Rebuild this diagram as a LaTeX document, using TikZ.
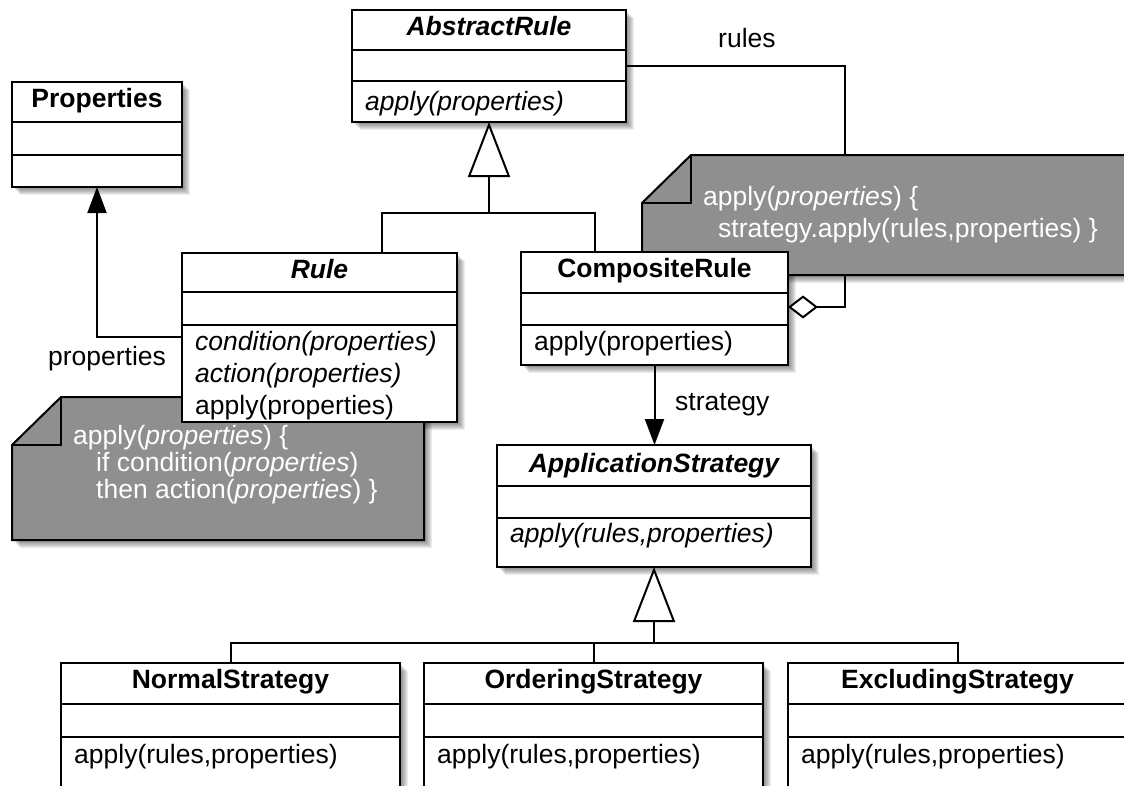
\documentclass[tikz,border=0pt]{standalone}
\usepackage{fontspec}
\setmainfont{Liberation Sans}
\usetikzlibrary{arrows.meta,calc}
\definecolor{notegray}{RGB}{143,143,143}

\pgfdeclarelayer{shadowlayer}
\pgfsetlayers{shadowlayer,main}

\tikzset{
  classbox/.style={draw=black,line width=2pt,fill=white,inner sep=0pt,outer sep=0pt,anchor=north west},
  divider/.style={line width=2pt},
  classname/.style={font=\bfseries,anchor=base,inner sep=0pt},
  abstractname/.style={font=\bfseries\itshape,anchor=base,inner sep=0pt},
  op/.style={anchor=base west,inner sep=0pt},
  role/.style={anchor=base west,inner sep=0pt},
  link/.style={line width=2pt},
  generalization/.style={link,-{Triangle[length=55pt,width=42pt,fill=white]}},
  navigable/.style={link,-{Triangle[length=26pt,width=19pt]}},
  aggregation/.style={link,{Diamond[length=30pt,width=23pt,fill=white]}-},
  notebody/.style={draw=black,line width=2pt,fill=notegray},
  notefold/.style={draw=black,line width=2pt},
  notetext/.style={text=white,anchor=base west,inner sep=0pt},
  shadowstep/.style={draw=none,fill=black,fill opacity=.07}
}

% soft shadow under a class box: stacked translucent copies, offset down-right
\newcommand\boxshadow[1]{%
  \begin{pgfonlayer}{shadowlayer}
  \foreach \k in {1,...,8}{
    \fill[shadowstep] ([xshift=\k pt,yshift=-\k pt]#1.north west) rectangle ([xshift=\k pt,yshift=-\k pt]#1.south east);
  }
  \end{pgfonlayer}}

% soft shadow under an arbitrary path given in picture coordinates
\newcommand\pathshadow[1]{%
  \begin{pgfonlayer}{shadowlayer}
  \foreach \k in {1,...,8}{
    \fill[shadowstep,shift={(\k,\k)}] #1;
  }
  \end{pgfonlayer}}

\begin{document}
\fontsize{26.5pt}{27pt}\selectfont
\begin{tikzpicture}[x=1pt,y=-1pt]
\useasboundingbox (0,0) rectangle (1124,785);
\clip (0,0) rectangle (1124,785);

\path (352,10) coordinate (abs-pos) (12,82) coordinate (props-pos)
      (182,253) coordinate (rule-pos) (521,252) coordinate (comp-pos)
      (497,445) coordinate (app-pos);

% rules association: AbstractRule <>--- CompositeRule (runs behind the note)
\coordinate (rules-corner) at (845,66);
\coordinate (agg-end) at (788,307);
\draw[aggregation] (agg-end) -- (agg-end -| rules-corner) -- (rules-corner) -- (626,66);
\node[role] (rules-label) at (718,47) {rules};

% ---------- notes ----------
\pathshadow{(642,203) -- (691,155) -- (1160,155) -- (1160,275) -- (642,275) -- cycle}
\path[notebody] (642,203) -- (691,155) -- (1160,155) -- (1160,275) -- (642,275) -- cycle;
\draw[notefold] (691,155) -- (691,203) -- (642,203);
\node[notetext] (cnote1) at (703,205) {apply(\textit{properties}) \{};
\node[notetext] (cnote2) at (718,237) {strategy.apply(rules,properties) \}};

\pathshadow{(12,445) -- (61,397) -- (424,397) -- (424,540) -- (12,540) -- cycle}
\path[notebody] (12,445) -- (61,397) -- (424,397) -- (424,540) -- (12,540) -- cycle;
\draw[notefold] (61,397) -- (61,445) -- (12,445);
\node[notetext] (rnote1) at (73,444) {apply(\textit{properties}) \{};
\node[notetext] (rnote2) at (96,471) {if condition(\textit{properties})};
\node[notetext] (rnote3) at (96,498) {then action(\textit{properties}) \}};

% ---------- AbstractRule ----------
\node[classbox,minimum width=274pt,minimum height=112pt] (abs) at (abs-pos) {};
\boxshadow{abs}
\draw[divider] ([yshift=-40pt]abs.north west) -- ([yshift=-40pt]abs.north east);
\draw[divider] ([yshift=-71pt]abs.north west) -- ([yshift=-71pt]abs.north east);
\node[abstractname] (abs-name) at ([yshift=-25pt]abs.north) {AbstractRule};
\node[op,font=\itshape] (abs-op) at ([xshift=13pt,yshift=-100pt]abs.north west) {apply(properties)};

% ---------- Properties ----------
\node[classbox,minimum width=170pt,minimum height=105pt] (props) at (props-pos) {};
\boxshadow{props}
\draw[divider] ([yshift=-40pt]props.north west) -- ([yshift=-40pt]props.north east);
\draw[divider] ([yshift=-73pt]props.north west) -- ([yshift=-73pt]props.north east);
\node[classname] (props-name) at ([yshift=-25pt]props.north) {Properties};

% ---------- Rule ----------
\node[classbox,minimum width=275pt,minimum height=169pt] (rule) at (rule-pos) {};
\boxshadow{rule}
\draw[divider] ([yshift=-39pt]rule.north west) -- ([yshift=-39pt]rule.north east);
\draw[divider] ([yshift=-72pt]rule.north west) -- ([yshift=-72pt]rule.north east);
\node[abstractname] (rule-name) at ([yshift=-25pt]rule.north) {Rule};
\node[op,font=\itshape] (rule-op1) at ([xshift=13pt,yshift=-97pt]rule.north west) {condition(properties)};
\node[op,font=\itshape] (rule-op2) at ([xshift=13pt,yshift=-129pt]rule.north west) {action(properties)};
\node[op] (rule-op3) at ([xshift=13pt,yshift=-161pt]rule.north west) {apply(properties)};

% ---------- CompositeRule ----------
\node[classbox,minimum width=267pt,minimum height=113pt] (comp) at (comp-pos) {};
\boxshadow{comp}
\draw[divider] ([yshift=-41pt]comp.north west) -- ([yshift=-41pt]comp.north east);
\draw[divider] ([yshift=-73pt]comp.north west) -- ([yshift=-73pt]comp.north east);
\node[classname] (comp-name) at ([yshift=-25pt]comp.north) {CompositeRule};
\node[op] (comp-op) at ([xshift=13pt,yshift=-98pt]comp.north west) {apply(properties)};

% ---------- ApplicationStrategy ----------
\node[classbox,minimum width=314pt,minimum height=122pt] (app) at (app-pos) {};
\boxshadow{app}
\draw[divider] ([yshift=-41pt]app.north west) -- ([yshift=-41pt]app.north east);
\draw[divider] ([yshift=-73pt]app.north west) -- ([yshift=-73pt]app.north east);
\node[abstractname] (app-name) at ([yshift=-27pt]app.north) {ApplicationStrategy};
\node[op,font=\itshape] (app-op) at ([xshift=13pt,yshift=-97pt]app.north west) {apply(rules,properties)};

% ---------- concrete strategies ----------
\foreach \key/\xpos/\title in {normal/61/NormalStrategy,ordering/424/OrderingStrategy,excluding/788/ExcludingStrategy}{
  \node[classbox,minimum width=339pt,minimum height=150pt] (\key) at (\xpos,663) {};
  \boxshadow{\key}
  \draw[divider] ([yshift=-41pt]\key.north west) -- ([yshift=-41pt]\key.north east);
  \draw[divider] ([yshift=-74pt]\key.north west) -- ([yshift=-74pt]\key.north east);
  \node[classname] (\key-name) at ([yshift=-25pt]\key.north) {\title};
  \node[op] (\key-op) at ([xshift=13pt,yshift=-100pt]\key.north west) {apply(rules,properties)};
}

% ---------- generalizations ----------
\coordinate (rule-join) at (489,213);
\draw[generalization] (rule-join) -- (rule-join |- abs.south);
\draw[link] ([xshift=62pt]rule.north) |- (rule-join) -| ([xshift=-59.5pt]comp.north);

\coordinate (strat-join) at (654,643);
\draw[generalization] (strat-join) -- (strat-join |- app.south);
\draw[link] (normal.north) |- (strat-join) -| (excluding.north);
\draw[link] (ordering.north) -- (ordering.north |- strat-join);

% ---------- associations ----------
\draw[navigable] ([yshift=-84pt]rule.north west) -| (props.south);
\node[anchor=base,inner sep=0pt] (props-role) at (107,365) {properties};

\draw[navigable] (comp.south) -- (comp.south |- app.north);
\node[role] (strategy-label) at (675,410) {strategy};

\end{tikzpicture}
\end{document}
